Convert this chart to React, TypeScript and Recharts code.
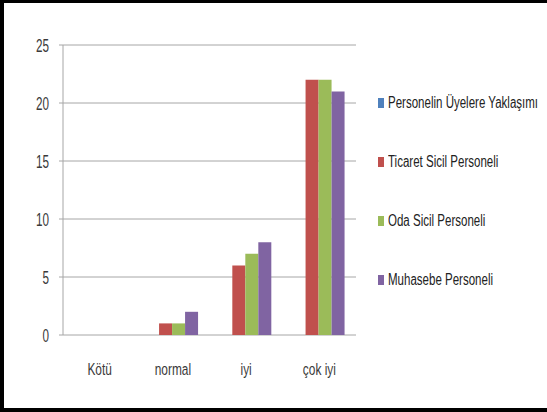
import React from "react";
import { BarChart, Bar, XAxis, YAxis, CartesianGrid, Legend } from "recharts";

const categories = ["Kötü", "normal", "iyi", "çok iyi"];
const seriesNames = [
  "Personelin Üyelere Yaklaşımı",
  "Ticaret Sicil Personeli",
  "Oda Sicil Personeli",
  "Muhasebe Personeli",
];
const personelinValues = [0, 0, 0, 0];
const ticaretValues = [0, 1, 6, 22];
const odaValues = [0, 1, 7, 22];
const muhasebeValues = [0, 2, 8, 21];
const yTicks = [0, 5, 10, 15, 20, 25];
const boundaryTicks = [0, 1, 2, 3, 4];
const colors = ["#4F81BD", "#C0504D", "#9BBB59", "#8064A2"];

const keys = ["s0", "s1", "s2", "s3"];
const data = categories.map((c, i) => ({
  cat: c,
  s0: personelinValues[i],
  s1: ticaretValues[i],
  s2: odaValues[i],
  s3: muhasebeValues[i],
}));

const FONT = "'Liberation Sans', Arial, sans-serif";
const GRID = "#a6a6a6";

const XTick = (props: any) => {
  const { x, y, payload } = props;
  return (
    <g transform={`translate(${x},${y}) scale(0.7,1)`}>
      <text x={0} y={0} dy={11} textAnchor="middle" fontFamily={FONT} fontSize={17} fill="#3a3a3a">
        {payload.value}
      </text>
    </g>
  );
};

const YTick = (props: any) => {
  const { x, y, payload } = props;
  return (
    <g transform={`translate(${x},${y}) scale(0.65,1)`}>
      <text x={0} y={0} dy={6.5} textAnchor="end" fontFamily={FONT} fontSize={18} fill="#3a3a3a">
        {payload.value}
      </text>
    </g>
  );
};

const LegendContent = () => (
  <div style={{ fontFamily: FONT, fontSize: 16, color: "#222" }}>
    {seriesNames.map((n, i) => (
      <div
        key={n}
        style={{ display: "flex", alignItems: "center", height: 20, marginBottom: i < 3 ? 39 : 0 }}
      >
        <span
          style={{
            display: "inline-block",
            flex: "0 0 auto",
            width: 6,
            height: 10,
            background: colors[i],
            marginRight: 4,
          }}
        />
        <span
          style={{
            whiteSpace: "nowrap",
            display: "inline-block",
            transform: "scaleX(0.72)",
            transformOrigin: "left center",
          }}
        >
          {n}
        </span>
      </div>
    ))}
  </div>
);

export default function App() {
  return (
    <div
      style={{
        position: "absolute",
        left: 0,
        top: 0,
        width: 547,
        height: 412,
        background: "#fff",
        boxSizing: "border-box",
        borderLeft: "4px solid #000",
        borderTop: "3px solid #000",
        borderBottom: "4px solid #000",
        overflow: "hidden",
      }}
    >
      <div style={{ position: "absolute", left: -4, top: -3 }}>
        <BarChart
          width={547}
          height={412}
          data={data}
          margin={{ top: 45, right: 191, bottom: 32, left: 0 }}
          barCategoryGap="13.4%"
          barGap={0}
        >
          <CartesianGrid horizontal vertical={false} stroke={GRID} strokeWidth={1} />
          <XAxis
            xAxisId="b"
            type="number"
            domain={[0, 4]}
            ticks={boundaryTicks}
            tick={false}
            tickSize={6}
            tickLine={{ stroke: GRID }}
            axisLine={{ stroke: GRID }}
            height={0}
            allowDataOverflow
          />
          <XAxis
            xAxisId="c"
            dataKey="cat"
            type="category"
            height={45}
            tickLine={false}
            axisLine={false}
            tickSize={0}
            tickMargin={29}
            tick={<XTick />}
          />
          <YAxis
            width={63}
            domain={[0, 25]}
            ticks={yTicks}
            tickSize={4}
            tickMargin={10}
            tickLine={{ stroke: GRID }}
            axisLine={{ stroke: GRID }}
            tick={<YTick />}
          />
          <Legend
            layout="vertical"
            align="center"
            verticalAlign="middle"
            content={<LegendContent />}
            wrapperStyle={{ left: 378, top: 93, width: 166, height: 220 }}
          />
          {keys.map((k, i) => (
            <Bar
              key={k}
              xAxisId="c"
              dataKey={k}
              name={seriesNames[i]}
              fill={colors[i]}
              isAnimationActive={false}
            />
          ))}
        </BarChart>
      </div>
    </div>
  );
}
